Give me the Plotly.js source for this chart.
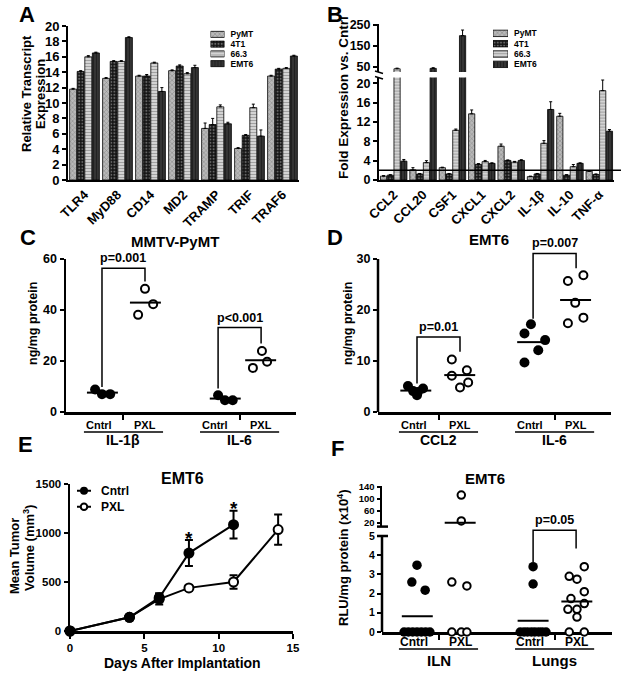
<!DOCTYPE html>
<html><head><meta charset="utf-8">
<script src="https://cdn.plot.ly/plotly-3.0.1.min.js"></script>
<style>html,body{margin:0;padding:0;background:#fff}#chart{width:621px;height:677px}</style>
</head><body><div id="chart"></div>
<script>
// ================= DATA =================
const seriesNames = ['PyMT', '4T1', '66.3', 'EMT6'];

// Panel A – Relative transcript expression
const genesA = ['TLR4', 'MyD88', 'CD14', 'MD2', 'TRAMP', 'TRIF', 'TRAF6'];
const pymtA = [11.8, 13.2, 13.5, 14.2, 6.7, 4.1, 13.5];
const t1A   = [14.1, 15.4, 13.5, 14.8, 7.2, 5.8, 14.4];
const m663A = [16.0, 15.4, 15.2, 13.8, 9.5, 9.4, 14.5];
const emt6A = [16.5, 18.5, 11.5, 14.6, 7.3, 5.7, 16.1];
const pymtAErr = [0.1, 0.1, 0.1, 0.1, 0.7, 0.1, 0.1];
const t1AErr   = [0.1, 0.1, 0.2, 0.15, 0.8, 0.1, 0.1];
const m663AErr = [0.15, 0.1, 0.1, 0.15, 0.25, 0.45, 0.1];
const emt6AErr = [0.1, 0.1, 0.5, 0.3, 0.2, 0.8, 0.1];

// Panel B – Fold expression vs. control
const genesB = ['CCL2', 'CCL20', 'CSF1', 'CXCL1', 'CXCL2', 'IL-1β', 'IL-10', 'TNF-α'];
const pymtB = [0.8, 2.1, 2.55, 13.7, 7.0, 0.7, 13.2, 1.8];
const t1B   = [1.0, 1.25, 1.25, 3.25, 4.05, 1.25, 1.0, 1.15];
const m663B = [40, 3.6, 10.3, 3.8, 3.7, 7.6, 2.75, 18.5];
const emt6B = [3.9, 42, 199, 3.45, 4.05, 14.6, 3.45, 10.1];
const pymtBErr = [0.1, 0.45, 0.1, 0.8, 0.45, 0.1, 0.6, 0.1];
const t1BErr   = [0.1, 0.1, 0.1, 0.15, 0.1, 0.1, 0.1, 0.1];
const m663BErr = [3, 0.4, 0.25, 0.25, 0.15, 0.55, 0.45, 2.2];
const emt6BErr = [0.35, 3, 27, 0.1, 0.15, 1.6, 0.1, 0.35];
const thresholdB = 2;

// Panel C – MMTV-PyMT (ng/mg protein)
const groupsC = ['IL-1β', 'IL-6'];
const il1bCntrlC = [8.8, 7.0, 7.0];
const il1bPxlC   = [48.3, 42.3, 38.1];
const il6CntrlC  = [6.6, 4.6, 4.6];
const il6PxlC    = [23.9, 19.7, 17.3];
const pTextC = ['p=0.001', 'p<0.001'];

// Panel D – EMT6 (ng/mg protein)
const groupsD = ['CCL2', 'IL-6'];
const ccl2CntrlD = [5.1, 4.6, 4.1, 3.9, 3.3];
const ccl2PxlD   = [10.3, 8.2, 7.1, 5.8, 4.8];
const il6CntrlD  = [17.2, 15.4, 14.1, 12.1, 9.7];
const il6PxlD    = [26.8, 25.7, 21.4, 18.5, 17.4];
const pTextD = ['p=0.01', 'p=0.007'];

// Panel E – tumor growth
const daysCntrl = [0, 4, 6, 8, 11];
const volCntrl  = [0, 140, 340, 795, 1085];
const errCntrl  = [0, 15, 45, 133, 141];
const daysPxl = [0, 4, 6, 8, 11, 14];
const volPxl  = [0, 140, 325, 440, 500, 1035];
const errPxl  = [0, 15, 55, 30, 70, 155];
const starDays = [8, 11];

// Panel F – RLU/mg protein (x10^4)
const groupsF = ['ILN', 'Lungs'];
const ilnCntrlF   = [3.48, 2.6, 2.18, 0, 0, 0, 0, 0, 0, 0];
const ilnPxlF     = [113, 27, 2.6, 2.4, 0, 0, 0];
const lungsCntrlF = [3.4, 2.5, 0, 0, 0, 0, 0, 0, 0, 0];
const lungsPxlF   = [3.4, 2.9, 2.75, 2.1, 1.74, 1.48, 1.18, 1.18, 0.78, 0, 0];
const pTextF = ['', 'p=0.05'];

const condLabels = ['Cntrl', 'PXL'];
const legendE = ['Cntrl', 'PXL'];

// ================= LAYOUT HELPERS (positions / styles) =================
const W = 621, H = 677;
const fx = p => p / W;
const fy = p => 1 - p / H;
const FONT = 'Liberation Sans, Arial, Helvetica, sans-serif';
const K = '#000';
const GROUP_GAP = 2.7;
const pos = (g, c) => 1 + g * GROUP_GAP + c;
const mean = a => a.reduce((s, v) => s + v, 0) / a.length;

// horizontal scatter offsets of the dots (layout only)
const JIT_C = [[[-0.16, 0, 0.19], [0, 0.19, -0.16]], [[0, 0.16, 0.34], [0.02, 0.14, -0.19]]];
const JIT_D = [[[-0.21, 0.14, -0.09, 0.02, 0], [-0.19, 0.16, -0.19, 0.19, 0]],
               [[-0.05, -0.2, 0.28, 0.12, -0.2], [0.17, -0.19, -0.02, 0.17, -0.19]]];
const JIT_F = [[[0, -0.12, 0.19, -0.3, -0.2, -0.1, 0, 0.1, 0.2, 0.3], [0.03, 0.03, -0.19, 0.16, -0.19, 0.03, 0.16]],
               [[0, 0, -0.3, -0.21, -0.13, -0.04, 0.04, 0.13, 0.21, 0.3], [0.19, -0.16, 0.02, 0.19, -0.12, 0.19, -0.19, 0.02, 0.02, -0.16, 0.19]]];
// significance brackets: [left foot, top, right foot] in data units (annotation layout)
const BR_C = [[9.8, 56.4, 51.2], [9.2, 33.1, 26.9]];
const BR_D = [[5.6, 14.7, 11.8], [18.3, 31.1, 28.2]];
const BR_F = [null, [3.65, 5.3, 4.35]];

const styles = [
  {bg: '#b9b9b9', fg: '#404040', shape: 'x', size: 3.2, solidity: 0.25},
  {bg: '#151515', fg: '#b5b5b5', shape: '.', size: 3.2, solidity: 0.35},
  {bg: '#d8d8d8', fg: '#6a6a6a', shape: '-', size: 3, solidity: 0.4},
  {bg: '#383838', fg: '#0a0a0a', shape: '|', size: 3, solidity: 0.45}
];
function barMarker(i) {
  const s = styles[i];
  return {color: s.bg, line: {color: K, width: 0.8},
          pattern: {shape: s.shape, fgcolor: s.fg, bgcolor: s.bg, size: s.size, solidity: s.solidity, fillmode: 'overlay'}};
}
function errBar(arr) {
  return {type: 'data', symmetric: false, array: arr, arrayminus: arr.map(() => 0), color: K, thickness: 1, width: 1.5};
}

const traces = [];

// ---- Panel A bars
[pymtA, t1A, m663A, emt6A].forEach((v, i) => {
  traces.push({type: 'bar', name: seriesNames[i], x: genesA, y: v, xaxis: 'x', yaxis: 'y',
    marker: barMarker(i), error_y: errBar([pymtAErr, t1AErr, m663AErr, emt6AErr][i]),
    showlegend: false, hoverinfo: 'skip'});
});
// ---- Panel B bars (lower + upper segment of broken axis)
['y2', 'y3'].forEach(ya => {
  [pymtB, t1B, m663B, emt6B].forEach((v, i) => {
    traces.push({type: 'bar', name: seriesNames[i], x: genesB, y: v, xaxis: 'x2', yaxis: ya,
      marker: barMarker(i), error_y: errBar([pymtBErr, t1BErr, m663BErr, emt6BErr][i]),
      showlegend: false, hoverinfo: 'skip'});
  });
});
// ---- Legend swatches for A and B
[['x7', 'y9'], ['x8', 'y10']].forEach(([xa, ya]) => {
  seriesNames.forEach((n, i) => {
    traces.push({type: 'bar', orientation: 'h', x: [1], y: [n], xaxis: xa, yaxis: ya, width: 0.62,
      offsetgroup: 'lg', marker: barMarker(i), showlegend: false, hoverinfo: 'skip'});
  });
});

// ---- dot-plot panels
function dotPanel(xa, yaFor, sets, jits, brackets, msize) {
  sets.forEach((pair, g) => {
    pair.forEach((vals, c) => {
      const p = pos(g, c);
      const byAx = {};
      vals.forEach((v, i) => {
        const ya = yaFor(v);
        if (!byAx[ya]) byAx[ya] = {x: [], y: []};
        byAx[ya].x.push(p + jits[g][c][i]); byAx[ya].y.push(v);
      });
      Object.keys(byAx).forEach(ya => {
        traces.push({type: 'scatter', mode: 'markers', x: byAx[ya].x, y: byAx[ya].y, xaxis: xa, yaxis: ya,
          cliponaxis: false, hoverinfo: 'skip', showlegend: false,
          marker: c === 0 ? {size: msize + 1, color: K} : {size: msize - 1, color: '#fff', line: {color: K, width: 2}}});
      });
      const m = mean(vals), ctr = p + mean(jits[g][c]);
      traces.push({type: 'scatter', mode: 'lines', x: [ctr - 0.36, ctr + 0.36], y: [m, m], xaxis: xa, yaxis: yaFor(m),
        line: {color: K, width: 2}, hoverinfo: 'skip', showlegend: false});
    });
    const b = brackets[g];
    if (b) {
      const x0 = pos(g, 0), x1 = pos(g, 1);
      traces.push({type: 'scatter', mode: 'lines', x: [x0, x0, x1, x1], y: [b[0], b[1], b[1], b[2]],
        xaxis: xa, yaxis: yaFor(b[1]), line: {color: K, width: 1.5}, hoverinfo: 'skip', showlegend: false});
    }
  });
}
dotPanel('x3', () => 'y4', [[il1bCntrlC, il1bPxlC], [il6CntrlC, il6PxlC]], JIT_C, BR_C, 9);
dotPanel('x4', () => 'y5', [[ccl2CntrlD, ccl2PxlD], [il6CntrlD, il6PxlD]], JIT_D, BR_D, 9);
dotPanel('x6', v => (v > 5.4 ? 'y8' : 'y7'), [[ilnCntrlF, ilnPxlF], [lungsCntrlF, lungsPxlF]], JIT_F, BR_F, 8.5);

// ---- Panel E growth curves
traces.push({type: 'scatter', mode: 'lines+markers', name: 'PXL', x: daysPxl, y: volPxl, xaxis: 'x5', yaxis: 'y6',
  cliponaxis: false, line: {color: K, width: 2}, marker: {size: 9, color: '#fff', line: {color: K, width: 2}},
  error_y: {type: 'data', array: errPxl, color: K, thickness: 2, width: 4}, hoverinfo: 'skip', showlegend: false});
traces.push({type: 'scatter', mode: 'lines+markers', name: 'Cntrl', x: daysCntrl, y: volCntrl, xaxis: 'x5', yaxis: 'y6',
  cliponaxis: false, line: {color: K, width: 2}, marker: {size: 11, color: K},
  error_y: {type: 'data', array: errCntrl, color: K, thickness: 2, width: 4}, hoverinfo: 'skip', showlegend: false});
// legend swatches for E
[[legendE[0], {size: 8, color: K}], [legendE[1], {size: 6.5, color: '#fff', line: {color: K, width: 2}}]].forEach(([n, mk]) => {
  traces.push({type: 'scatter', mode: 'lines', x: [0, 1], y: [n, n], xaxis: 'x9', yaxis: 'y11',
    line: {color: K, width: 2}, hoverinfo: 'skip', showlegend: false});
  traces.push({type: 'scatter', mode: 'markers', x: [0.5], y: [n], xaxis: 'x9', yaxis: 'y11',
    marker: mk, cliponaxis: false, hoverinfo: 'skip', showlegend: false});
});

// ================= AXES =================
const tf = s => ({family: FONT, size: s, color: K, weight: 'bold'});
const baseAx = {showgrid: false, zeroline: false, showline: true, linecolor: K, linewidth: 2,
  ticks: 'outside', ticklen: 4, tickwidth: 2, tickcolor: K, fixedrange: true};
const ax = o => Object.assign({}, baseAx, o);
const legAx = (dom, anchor, cats, size, standoff) => ({domain: dom, anchor: anchor, type: 'category',
  categoryarray: cats, range: [cats.length - 0.5, -0.5], tickmode: 'array', tickvals: cats, ticktext: cats,
  side: 'right', showgrid: false, zeroline: false, showline: false, ticks: '', tickfont: tf(size),
  ticklabelstandoff: standoff, fixedrange: true});

const layout = {
  width: W, height: H, margin: {l: 0, r: 0, t: 0, b: 0},
  paper_bgcolor: '#fff', plot_bgcolor: 'rgba(0,0,0,0)',
  font: {family: FONT, color: K}, showlegend: false,
  barmode: 'group', bargap: 0.08, bargroupgap: 0.08,
  // A
  xaxis: ax({domain: [fx(68), fx(299)], anchor: 'y', type: 'category', ticks: '', tickangle: -45, tickfont: tf(13)}),
  yaxis: ax({domain: [fy(180), fy(26)], anchor: 'x', range: [0, 20], dtick: 2, tickfont: tf(13)}),
  // B
  xaxis2: ax({domain: [fx(379), fx(614)], anchor: 'y2', type: 'category', ticks: '', tickangle: -45, tickfont: tf(13)}),
  yaxis2: ax({domain: [fy(180), fy(77.6)], anchor: 'x2', range: [0, 21.2], tickvals: [0, 4, 8, 12, 16, 20], tickfont: tf(12.5)}),
  yaxis3: ax({domain: [fy(71.9), fy(24)], anchor: 'x2', range: [25, 255], tickvals: [50, 150, 250], tickfont: tf(12.5)}),
  // C
  xaxis3: ax({domain: [fx(66), fx(296)], anchor: 'y4', range: [0.163, 5.512], linewidth: 3,
    tickvals: [pos(0, 0.5), pos(1, 0.5)], ticklen: 5, showticklabels: false}),
  yaxis4: ax({domain: [fy(412), fy(259)], anchor: 'x3', range: [0, 60], tickvals: [0, 20, 40, 60], linewidth: 2.5, tickfont: tf(12.5)}),
  // D
  xaxis4: ax({domain: [fx(378), fx(611)], anchor: 'y5', range: [0.093, 5.512], linewidth: 3,
    tickvals: [pos(0, 0.5), pos(1, 0.5)], ticklen: 5, showticklabels: false}),
  yaxis5: ax({domain: [fy(412), fy(248.8)], anchor: 'x4', range: [0, 32], tickvals: [0, 10, 20, 30], showline: false, tickfont: tf(12.5)}),
  // E
  xaxis5: ax({domain: [fx(70), fx(293)], anchor: 'y6', range: [0, 15], tickvals: [0, 5, 10, 15], linewidth: 2.5, ticklen: 5,
    tickfont: tf(11.5), layer: 'below traces'}),
  yaxis6: ax({domain: [fy(631), fy(484)], anchor: 'x5', range: [0, 1500], tickvals: [0, 500, 1000, 1500], linewidth: 2.5,
    tickfont: tf(11.5), layer: 'below traces'}),
  // F
  xaxis6: ax({domain: [fx(382), fx(612)], anchor: 'y7', range: [0.186, 5.535], linewidth: 3,
    tickvals: [pos(0, 0.5), pos(1, 0.5)], ticklen: 5, showticklabels: false, layer: 'below traces'}),
  yaxis7: ax({domain: [fy(632), fy(528.3)], anchor: 'x6', range: [0, 5.4], tickvals: [0, 1, 2, 3, 4, 5], showline: false,
    tickfont: tf(10.5), layer: 'below traces'}),
  yaxis8: ax({domain: [fy(526.6), fy(485.5)], anchor: 'x6', range: [8, 145], tickvals: [20, 60, 100, 140], linewidth: 2.5,
    tickfont: tf(9.5), ticklen: 3}),
  // legend swatch axes
  xaxis7: {domain: [fx(210.5), fx(224.5)], anchor: 'y9', range: [0, 1], visible: false, fixedrange: true},
  yaxis9: legAx([fy(68.5), fy(29.5)], 'x7', seriesNames, 8.5, 5),
  xaxis8: {domain: [fx(493), fx(508)], anchor: 'y10', range: [0, 1], visible: false, fixedrange: true},
  yaxis10: legAx([fy(69.5), fy(28.2)], 'x8', seriesNames, 8.5, 5),
  xaxis9: {domain: [fx(77), fx(91)], anchor: 'y11', range: [0, 1], visible: false, fixedrange: true},
  yaxis11: legAx([fy(514.7), fy(482.7)], 'x9', legendE, 12, 9)
};

// ================= SHAPES =================
const ln = (o, w) => Object.assign({type: 'line', line: {color: K, width: w || 1.5}}, o);
const shapes = [
  // threshold line in B
  ln({xref: 'paper', yref: 'y2', x0: fx(379), x1: 1, y0: thresholdB, y1: thresholdB}, 1.5),
  // axis-break marks in B
  ln({xref: 'paper', yref: 'paper', x0: fx(375), x1: fx(383), y0: fy(71), y1: fy(73.5)}, 1.5),
  ln({xref: 'paper', yref: 'paper', x0: fx(375), x1: fx(383), y0: fy(76.5), y1: fy(79)}, 1.5),
  // D y-axis line (0..30)
  ln({xref: 'paper', yref: 'y5', x0: fx(378), x1: fx(378), y0: 0, y1: 30}, 2.5),
  // F lower y-axis line (0..5) and break marks
  ln({xref: 'paper', yref: 'y7', x0: fx(382), x1: fx(382), y0: 0, y1: 5}, 2.5),
  ln({xref: 'paper', yref: 'y7', x0: fx(377), x1: fx(388), y0: 5, y1: 5}, 2.5),
  ln({xref: 'paper', yref: 'paper', x0: fx(377), x1: fx(388), y0: fy(526.6), y1: fy(526.6)}, 2.5)
];
// underlines under Cntrl / PXL
[['x3', 432], ['x4', 432], ['x6', 649]].forEach(([xa, yp]) => {
  [0, 1].forEach(g => shapes.push(ln({xref: xa, yref: 'paper', x0: pos(g, 0) - 0.42, x1: pos(g, 1) + 0.42, y0: fy(yp), y1: fy(yp)}, 1.5)));
});
layout.shapes = shapes;

// ================= ANNOTATIONS =================
function txt(text, x, y, size, o) {
  return Object.assign({text: '<b>' + text + '</b>', x: x, y: y, xref: 'paper', yref: 'paper', showarrow: false,
    font: {family: FONT, size: size, color: K}, xanchor: 'center', yanchor: 'middle'}, o || {});
}
const ann = [
  txt('A', fx(27), fy(15), 22), txt('B', fx(335), fy(15), 22),
  txt('C', fx(28), fy(238), 22), txt('D', fx(335), fy(238), 22),
  txt('E', fx(25), fy(444), 22), txt('F', fx(337), fy(448), 22),
  // y titles
  txt('Relative Transcript', fx(27), fy(94), 13, {textangle: -90}),
  txt('Expression', fx(41), fy(94), 13, {textangle: -90}),
  txt('Fold Expression vs. Cntrl', fx(343), fy(98), 13.5, {textangle: -90}),
  txt('ng/mg protein', fx(33), fy(324), 12.5, {textangle: -90}),
  txt('ng/mg protein', fx(348), fy(324), 12.5, {textangle: -90}),
  txt('Mean Tumor', fx(14), fy(556), 13, {textangle: -90}),
  txt('Volume (mm<sup>3</sup>)', fx(29), fy(548), 13, {textangle: -90}),
  txt('RLU/mg protein (x10<sup>4</sup>)', fx(343), fy(558), 13, {textangle: -90}),
  // titles
  txt('MMTV-PyMT', fx(175), fy(241), 15), txt('EMT6', fx(489), fy(240), 15),
  txt('EMT6', fx(183), fy(478), 16), txt('EMT6', fx(485), fy(478), 15),
  txt('Days After Implantation', fx(182), fy(663), 14)
];
// category labels + p values for dot panels
function catLabels(xa, groups, yCond, yGroup, condSize, groupSize, ya, brackets, ptexts) {
  groups.forEach((gname, g) => {
    condLabels.forEach((c, ci) => ann.push(txt(c, pos(g, ci) - (ci === 0 ? 0.08 : 0), fy(yCond), condSize, {xref: xa})));
    ann.push(txt(gname, pos(g, 0.5), fy(yGroup), groupSize, {xref: xa}));
    if (brackets[g] && ptexts[g]) {
      ann.push(txt(ptexts[g], pos(g, 0.5), brackets[g][1], 12.5, {xref: xa, yref: ya, yanchor: 'bottom', yshift: 1}));
    }
  });
}
catLabels('x3', groupsC, 425, 440, 11, 14, 'y4', BR_C, pTextC);
catLabels('x4', groupsD, 425, 440, 11, 14, 'y5', BR_D, pTextD);
catLabels('x6', groupsF, 642, 660, 12, 15, 'y7', BR_F, pTextF);
// significance stars in E
starDays.forEach(d => {
  const i = daysCntrl.indexOf(d);
  ann.push(txt('*', d, volCntrl[i] + errCntrl[i] + 20, 19, {xref: 'x5', yref: 'y6'}));
});
layout.annotations = ann;

Plotly.newPlot('chart', traces, layout, {staticPlot: true, displayModeBar: false});
</script>
</body></html>
